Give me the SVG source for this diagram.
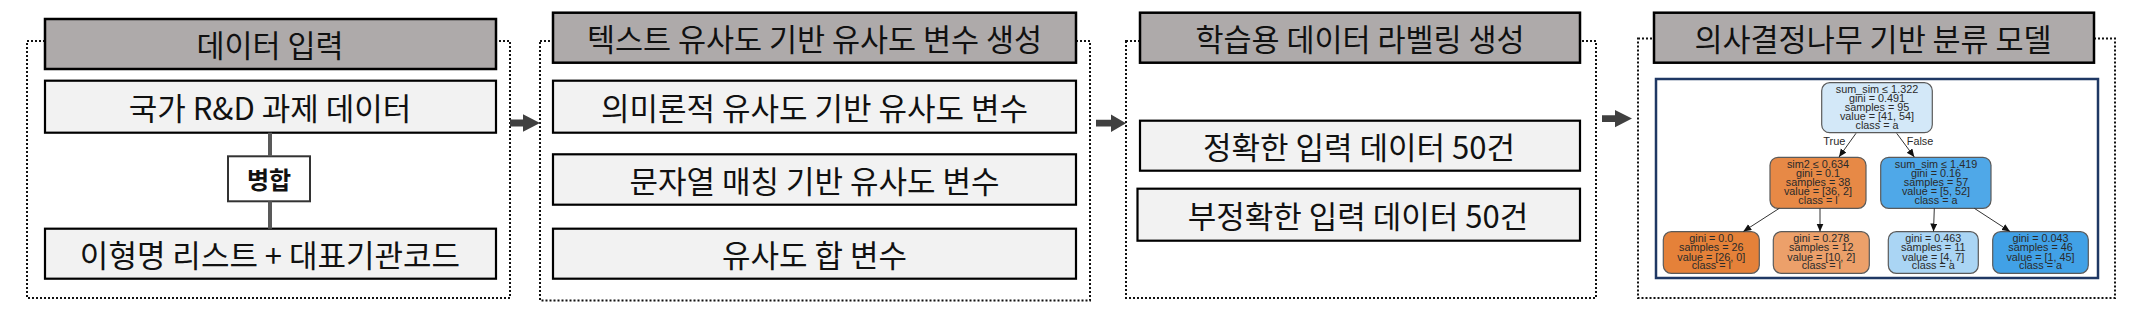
<svg xmlns="http://www.w3.org/2000/svg" width="2132" height="314" viewBox="0 0 2132 314">
<defs>
<style>
.frame{fill:none;stroke:#111;stroke-width:2;stroke-dasharray:2 2}
.hdr{fill:#aeaaaa;stroke:#000;stroke-width:2.5}
.box{fill:#f2f2f2;stroke:#000;stroke-width:2.2}
.kt{font-family:"Noto Sans CJK KR","Noto Sans",sans-serif;font-weight:400;font-size:31px;fill:#111;text-anchor:middle;dominant-baseline:central}
.ht{font-size:30.5px}
.bold{font-weight:bold;font-size:24px}
.arrow{fill:#404040}
.tn{stroke:#5a5a5a;stroke-width:1.2}
.tt{font-family:"Liberation Sans",Arial,sans-serif;font-size:10.8px;fill:#2a2a2a;text-anchor:middle;dominant-baseline:central}
.te{stroke:#333;stroke-width:1;fill:none}
</style>
<marker id="ah" markerUnits="userSpaceOnUse" markerWidth="9" markerHeight="8" refX="8" refY="3.5" orient="auto">
<path d="M0,0 L8,3.5 L0,7 Z" fill="#111"/>
</marker>
</defs>
<rect width="2132" height="314" fill="#fff"/>

<!-- Panel 1 -->
<g id="panel1">
<rect class="frame" x="27" y="41" width="483" height="257"/>
<g id="p1-header"><rect class="hdr" x="45" y="19" width="451" height="50"/><text class="kt ht" x="270" y="44">데이터 입력</text></g>
<g id="p1-rnd"><rect class="box" x="45" y="80.7" width="451" height="52"/><text class="kt" x="270" y="106.7">국가 R&amp;D 과제 데이터</text></g>
<g id="p1-merge"><rect x="228" y="156.3" width="82" height="45" fill="#fff" stroke="#333" stroke-width="2"/><text class="kt bold" x="269" y="178.8">병합</text></g>
<g id="p1-list"><rect class="box" x="45" y="228.7" width="451" height="50"/><text class="kt" x="270" y="253.7">이형명 리스트 + 대표기관코드</text></g>
</g>

<!-- Panel 2 -->
<g id="panel2">
<rect class="frame" x="540" y="41" width="550" height="259.5"/>
<g id="p2-header"><rect class="hdr" x="553" y="12.7" width="523" height="50"/><text class="kt ht" x="814.5" y="37.7">텍스트 유사도 기반 유사도 변수 생성</text></g>
<g id="p2-semantic"><rect class="box" x="553" y="80.7" width="523" height="52"/><text class="kt" x="814.5" y="106.7">의미론적 유사도 기반 유사도 변수</text></g>
<g id="p2-string"><rect class="box" x="553" y="154.3" width="523" height="50.4"/><text class="kt" x="814.5" y="179.5">문자열 매칭 기반 유사도 변수</text></g>
<g id="p2-sum"><rect class="box" x="553" y="228.7" width="523" height="50"/><text class="kt" x="814.5" y="253.7">유사도 합 변수</text></g>
</g>

<!-- Panel 3 -->
<g id="panel3">
<rect class="frame" x="1126" y="41" width="470" height="257"/>
<g id="p3-header"><rect class="hdr" x="1140" y="12.7" width="440" height="50"/><text class="kt ht" x="1360" y="37.7">학습용 데이터 라벨링 생성</text></g>
<g id="p3-correct"><rect class="box" x="1140" y="120.7" width="440" height="50"/><text class="kt" x="1359" y="145.7">정확한 입력 데이터 50건</text></g>
<g id="p3-incorrect"><rect class="box" x="1137.5" y="188.7" width="442.5" height="52"/><text class="kt" x="1358" y="214.7">부정확한 입력 데이터 50건</text></g>
</g>

<!-- Panel 4 -->
<g id="panel4">
<rect class="frame" x="1638" y="38.5" width="477" height="259.5"/>
<g id="p4-header"><rect class="hdr" x="1654" y="12.7" width="440" height="50"/><text class="kt ht" x="1873" y="37.7">의사결정나무 기반 분류 모델</text></g>
<rect x="1656" y="79" width="442" height="199" fill="#fff" stroke="#1f3864" stroke-width="2.5"/>
<g id="t-root"><rect class="tn" x="1821.7" y="82.7" width="110.6" height="50" rx="8" fill="#d3e8f8"/>
<text class="tt" x="1877" y="88.7" textLength="82.5" lengthAdjust="spacingAndGlyphs">sum_sim ≤ 1.322</text>
<text class="tt" x="1877" y="97.7" textLength="56.1" lengthAdjust="spacingAndGlyphs">gini = 0.491</text>
<text class="tt" x="1877" y="106.7" textLength="64.5" lengthAdjust="spacingAndGlyphs">samples = 95</text>
<text class="tt" x="1877" y="115.7" textLength="74.2" lengthAdjust="spacingAndGlyphs">value = [41, 54]</text>
<text class="tt" x="1877" y="124.5" textLength="42.9" lengthAdjust="spacingAndGlyphs">class = a</text></g>
<g id="t-left"><rect class="tn" x="1770" y="157.3" width="96" height="51" rx="8" fill="#e78946"/>
<text class="tt" x="1818" y="164" textLength="62.1" lengthAdjust="spacingAndGlyphs">sim2 ≤ 0.634</text>
<text class="tt" x="1818" y="173" textLength="44.1" lengthAdjust="spacingAndGlyphs">gini = 0.1</text>
<text class="tt" x="1818" y="181.8" textLength="64.5" lengthAdjust="spacingAndGlyphs">samples = 38</text>
<text class="tt" x="1818" y="190.7" textLength="68.1" lengthAdjust="spacingAndGlyphs">value = [36, 2]</text>
<text class="tt" x="1818" y="199.5" textLength="39.3" lengthAdjust="spacingAndGlyphs">class = l</text></g>
<g id="t-right"><rect class="tn" x="1880.7" y="157.3" width="110.3" height="51" rx="8" fill="#4fa8e8"/>
<text class="tt" x="1936" y="164" textLength="82.5" lengthAdjust="spacingAndGlyphs">sum_sim ≤ 1.419</text>
<text class="tt" x="1936" y="173" textLength="50.1" lengthAdjust="spacingAndGlyphs">gini = 0.16</text>
<text class="tt" x="1936" y="181.8" textLength="64.5" lengthAdjust="spacingAndGlyphs">samples = 57</text>
<text class="tt" x="1936" y="190.7" textLength="68.1" lengthAdjust="spacingAndGlyphs">value = [5, 52]</text>
<text class="tt" x="1936" y="199.5" textLength="42.9" lengthAdjust="spacingAndGlyphs">class = a</text></g>
<g id="t-ll"><rect class="tn" x="1663.3" y="231.7" width="96" height="41.6" rx="8" fill="#e58139"/>
<text class="tt" x="1711.3" y="238.3" textLength="44.1" lengthAdjust="spacingAndGlyphs">gini = 0.0</text>
<text class="tt" x="1711.3" y="247.3" textLength="64.5" lengthAdjust="spacingAndGlyphs">samples = 26</text>
<text class="tt" x="1711.3" y="256.5" textLength="68.1" lengthAdjust="spacingAndGlyphs">value = [26, 0]</text>
<text class="tt" x="1711.3" y="265.3" textLength="39.3" lengthAdjust="spacingAndGlyphs">class = l</text></g>
<g id="t-lr"><rect class="tn" x="1773.3" y="231.7" width="96" height="41.6" rx="8" fill="#eca06a"/>
<text class="tt" x="1821.3" y="238.3" textLength="56.1" lengthAdjust="spacingAndGlyphs">gini = 0.278</text>
<text class="tt" x="1821.3" y="247.3" textLength="64.5" lengthAdjust="spacingAndGlyphs">samples = 12</text>
<text class="tt" x="1821.3" y="256.5" textLength="68.1" lengthAdjust="spacingAndGlyphs">value = [10, 2]</text>
<text class="tt" x="1821.3" y="265.3" textLength="39.3" lengthAdjust="spacingAndGlyphs">class = l</text></g>
<g id="t-rl"><rect class="tn" x="1888.3" y="231.7" width="90" height="41.6" rx="8" fill="#aad5f4"/>
<text class="tt" x="1933.3" y="238.3" textLength="56.1" lengthAdjust="spacingAndGlyphs">gini = 0.463</text>
<text class="tt" x="1933.3" y="247.3" textLength="64.5" lengthAdjust="spacingAndGlyphs">samples = 11</text>
<text class="tt" x="1933.3" y="256.5" textLength="62.1" lengthAdjust="spacingAndGlyphs">value = [4, 7]</text>
<text class="tt" x="1933.3" y="265.3" textLength="42.9" lengthAdjust="spacingAndGlyphs">class = a</text></g>
<g id="t-rr"><rect class="tn" x="1992.7" y="231.7" width="95.6" height="41.6" rx="8" fill="#41a1e6"/>
<text class="tt" x="2040.5" y="238.3" textLength="56.1" lengthAdjust="spacingAndGlyphs">gini = 0.043</text>
<text class="tt" x="2040.5" y="247.3" textLength="64.5" lengthAdjust="spacingAndGlyphs">samples = 46</text>
<text class="tt" x="2040.5" y="256.5" textLength="68.1" lengthAdjust="spacingAndGlyphs">value = [1, 45]</text>
<text class="tt" x="2040.5" y="265.3" textLength="42.9" lengthAdjust="spacingAndGlyphs">class = a</text></g>
</g>

<!-- Connectors -->
<g id="connectors">
<line x1="270" y1="132.7" x2="270" y2="156.3" stroke="#595959" stroke-width="4"/>
<line x1="270" y1="201.3" x2="270" y2="228.7" stroke="#595959" stroke-width="4"/>
<path class="arrow" d="M510,119.6 H523 V114.2 L540,123 L523,131.8 V126.4 H510 Z"/>
<path class="arrow" d="M1096,119.8 H1111 V114.4 L1126,123.2 L1111,132 V126.6 H1096 Z"/>
<path class="arrow" d="M1602,115.2 H1615 V110 L1632,118.6 L1615,127.2 V122 H1602 Z"/>
<line class="te" x1="1856" y1="133.3" x2="1839" y2="157" marker-end="url(#ah)"/>
<line class="te" x1="1896.7" y1="133.3" x2="1914.3" y2="157" marker-end="url(#ah)"/>
<line class="te" x1="1779.3" y1="208.3" x2="1743.3" y2="231.5" marker-end="url(#ah)"/>
<line class="te" x1="1820" y1="208.3" x2="1820" y2="231.5" marker-end="url(#ah)"/>
<line class="te" x1="1934.3" y1="208.3" x2="1933.5" y2="231.5" marker-end="url(#ah)"/>
<line class="te" x1="1974.3" y1="208.3" x2="2010" y2="231.5" marker-end="url(#ah)"/>
<text class="tt" x="1834.3" y="140.7" textLength="22.2" lengthAdjust="spacingAndGlyphs">True</text>
<text class="tt" x="1920" y="140.7" textLength="26.4" lengthAdjust="spacingAndGlyphs">False</text>
</g>
</svg>
